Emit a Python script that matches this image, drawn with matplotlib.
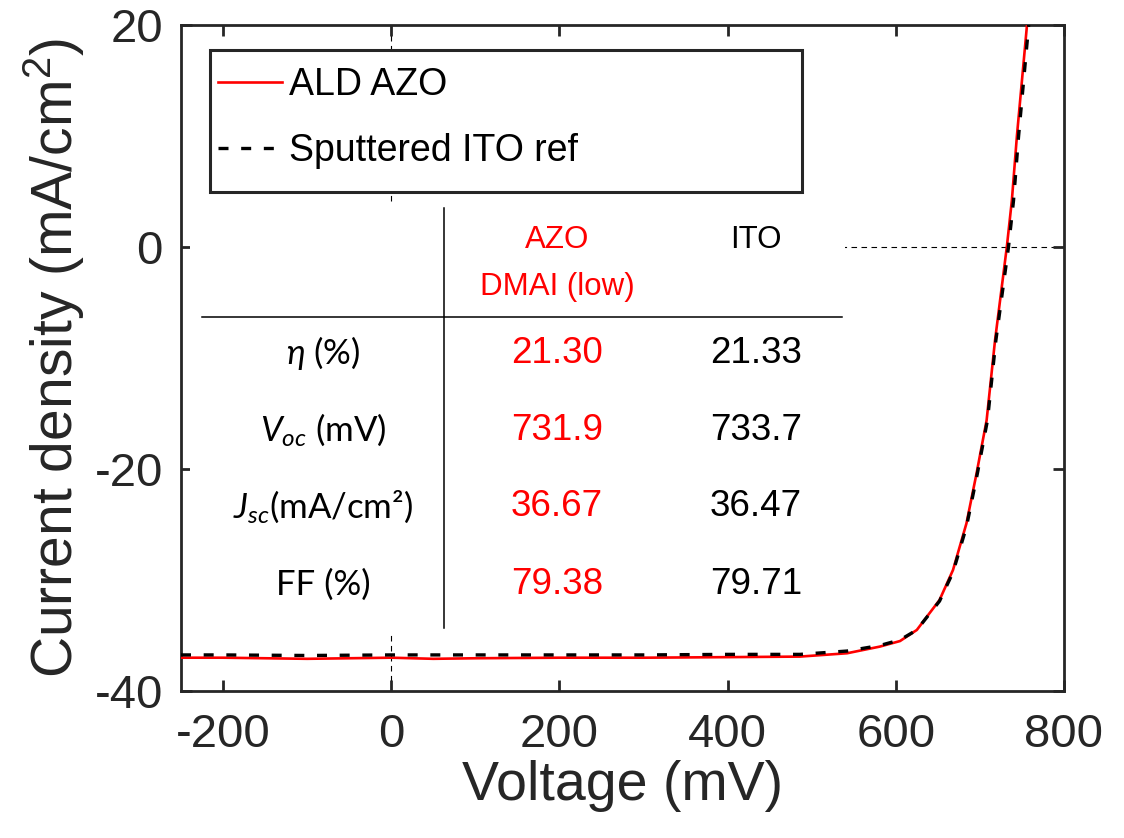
import matplotlib
matplotlib.use("Agg")
import matplotlib.pyplot as plt
from matplotlib.patches import Rectangle

plt.rcParams['font.family'] = ['Liberation Sans', 'DejaVu Sans']
plt.rcParams['mathtext.fontset'] = 'custom'
plt.rcParams['mathtext.rm'] = 'Liberation Sans'
plt.rcParams['mathtext.it'] = 'Lato:italic'
plt.rcParams['mathtext.bf'] = 'Liberation Sans:bold'
plt.rcParams['axes.unicode_minus'] = False

# J-V curves (mV, mA/cm2)
volt = [-250, -200, -100, 0, 50, 100, 200, 300, 400, 486, 542, 581, 605,
        625, 652, 668, 684, 696, 708, 718, 732, 738, 744, 756]
j_azo = [-37.0, -37.0, -37.1, -37.0, -37.1, -37.05, -37.0, -37.0, -36.95,
         -36.9, -36.6, -36.0, -35.5, -34.5, -31.8, -29.1, -24.9, -20.4, -15.6,
         -8.4, 0.0, 4.2, 10.0, 20.0]
volt_ito = [-250, -200, -100, 0, 50, 100, 200, 300, 400, 486, 542, 581, 605,
            625, 652, 668, 684, 697, 709, 719, 734, 740, 746, 758]
j_ito = [-36.75, -36.75, -36.8, -36.75, -36.75, -36.75, -36.75, -36.75, -36.7,
         -36.7, -36.4, -35.9, -35.4, -34.5, -31.9, -29.3, -25.2, -20.4, -15.6,
         -8.4, 0.0, 4.2, 10.0, 20.0]

legend_labels = ["ALD AZO", "Sputtered ITO ref"]

# table contents
col_heads = ["AZO", "DMAI (low)", "ITO"]
row_labels = [r"$\eta$ (%)", r"$V_{oc}$ (mV)", r"$J_{sc}$(mA/cm²)", "FF (%)"]
azo_vals = ["21.30", "731.9", "36.67", "79.38"]
ito_vals = ["21.33", "733.7", "36.47", "79.71"]

gray = "#262626"

fig = plt.figure(figsize=(11.24, 8.38), dpi=100)
ax = fig.add_axes([181/1124, 1-691/838, 883/1124, 666/838])

ax.axvline(0, color="black", lw=0.8, ls=(0, (5, 4)), zorder=1)
ax.axhline(0, color="black", lw=0.8, ls=(0, (5, 4)), zorder=1)

ax.plot(volt, j_azo, color="red", lw=1.9, zorder=4, label=legend_labels[0])
ax.plot(volt_ito, j_ito, color="black", lw=2.4, ls=(0, (3, 3.8)), zorder=5,
        label=legend_labels[1])

ax.set_xlim(-250, 800)
ax.set_ylim(-40, 20)
ax.set_xticks([-200, 0, 200, 400, 600, 800])
ax.set_yticks([-40, -20, 0, 20])
ax.tick_params(direction="in", length=8, width=2, top=True, right=True,
               labelsize=34, colors=gray)
ax.tick_params(axis="x", pad=16)
ax.tick_params(axis="y", pad=13)
for s in ax.spines.values():
    s.set_linewidth(2)
    s.set_color(gray)

ax.set_xlabel("Voltage (mV)", fontsize=40, color=gray, labelpad=2)
ax.set_ylabel("Current density (mA/cm$^2$)", fontsize=41, color=gray, labelpad=6)


def fx(px):
    return (px-181)/883


def fy(py):
    return (691-py)/666


# legend: frame drawn separately so the padding matches
ax.add_patch(Rectangle((fx(210), fy(192)), fx(802)-fx(210), fy(50)-fy(192),
                       transform=ax.transAxes, facecolor="white",
                       edgecolor=gray, lw=2.2, zorder=8))
leg = ax.legend(loc="upper left", bbox_to_anchor=(fx(218), fy(67)),
                borderaxespad=0, borderpad=0, fontsize=27, frameon=False,
                handlelength=1.7, handletextpad=0.2, labelspacing=0.79)
leg.set_zorder(10)

# table with white background
ax.add_patch(Rectangle((fx(190), fy(632)), fx(845)-fx(190), fy(205)-fy(632),
                       transform=ax.transAxes, facecolor="white",
                       edgecolor="none", zorder=2))
ax.plot([fx(444), fx(444)], [fy(208), fy(628)], transform=ax.transAxes,
        color="black", lw=1.1, zorder=3)
ax.plot([fx(202), fx(842)], [fy(317), fy(317)], transform=ax.transAxes,
        color="black", lw=1.1, zorder=3)

col_x = [fx(557), fx(756)]
ax.text(col_x[0], fy(240), col_heads[0], transform=ax.transAxes, ha="center",
        va="center", fontsize=22.5, color="red", zorder=6)
ax.text(col_x[0], fy(287), col_heads[1], transform=ax.transAxes, ha="center",
        va="center", fontsize=22.5, color="red", zorder=6)
ax.text(col_x[1], fy(240), col_heads[2], transform=ax.transAxes, ha="center",
        va="center", fontsize=22.5, color="black", zorder=6)

row_y = [353, 430, 507, 585]
for lab, a, b, y in zip(row_labels, azo_vals, ito_vals, row_y):
    ax.text(fx(323), fy(y), lab, transform=ax.transAxes, ha="center",
            va="center", fontsize=25, family=["Lato", "DejaVu Sans"],
            color="black", zorder=6)
    ax.text(col_x[0], fy(y), a, transform=ax.transAxes, ha="center",
            va="center", fontsize=26.5, color="red", zorder=6)
    ax.text(col_x[1], fy(y), b, transform=ax.transAxes, ha="center",
            va="center", fontsize=26.5, color="black", zorder=6)

fig.savefig("out.png", dpi=100)
